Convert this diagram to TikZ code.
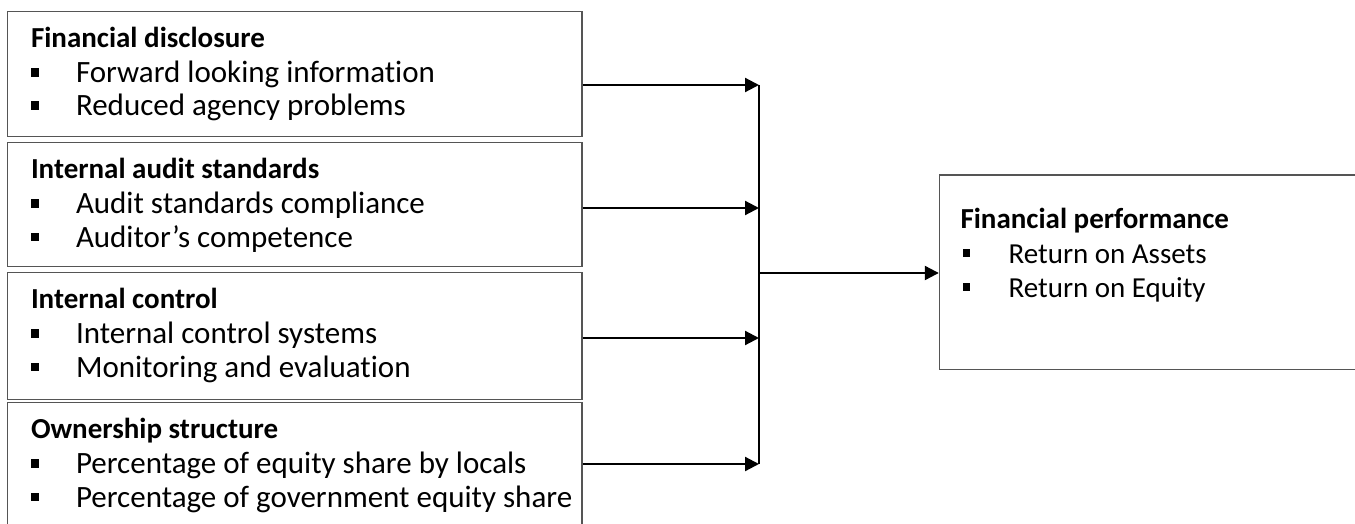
\documentclass[tikz,border=0pt]{standalone}
\usepackage{fontspec}
\setmainfont{Carlito}[Ligatures={NoCommon}]
\usetikzlibrary{arrows.meta}
\definecolor{boxgray}{HTML}{555555}
\newcommand\bl{\makebox[45pt][l]{\raisebox{6pt}{\rule{8pt}{8.5pt}}}}
\newcommand\blr{\makebox[46pt][l]{\raisebox{6pt}{\rule{7.6pt}{8pt}}}}
\begin{document}
\begin{tikzpicture}[x=1pt,y=-1pt,
  box/.style={draw=boxgray, line width=1.4pt, inner sep=0pt, rectangle},
  txt/.style={anchor=base west, inner sep=0pt, font=\fontsize{31}{34}\selectfont},
  txtr/.style={anchor=base west, inner sep=0pt, font=\fontsize{29}{34}\selectfont},
  head/.style={anchor=base west, inner sep=0pt, font=\fontsize{29}{34}\selectfont\bfseries},
  conn/.style={draw=black, line width=2.2pt},
  arr/.style={conn, -{Triangle[length=14pt,width=14pt]}}
]
\useasboundingbox (0,0) rectangle (1355,524);
\clip (0,0) rectangle (1355,524);
\fill[white] (0,0) rectangle (1355,524);

% left boxes
\node[box, minimum width=574.5pt, minimum height=125pt]   (b1) at (294.75,74.2) {};
\node[box, minimum width=574.5pt, minimum height=124pt]   (b2) at (294.75,204.7) {};
\node[box, minimum width=574.5pt, minimum height=126.6pt] (b3) at (294.75,336) {};
\node[box, minimum width=574.5pt, minimum height=137.3pt] (b4) at (294.75,471.35) {};
% right box
\node[box, minimum width=430.5pt, minimum height=194.3pt] (perf) at (1154.75,272.15) {};

% texts of box 1
\node[head] (h1)  at ([xshift=24pt,yshift=-36.6pt]b1.north west) {Financial disclosure};
\node[txt]  (t1a) at ([xshift=24pt,yshift=-71.6pt]b1.north west) {\bl Forward looking information};
\node[txt]  (t1b) at ([xshift=24pt,yshift=-105pt]b1.north west) {\bl Reduced agency problems};
% box 2
\node[head] (h2)  at ([xshift=24pt,yshift=-36.6pt]b2.north west) {Internal audit standards};
\node[txt]  (t2a) at ([xshift=24pt,yshift=-71.6pt]b2.north west) {\bl Audit standards compliance};
\node[txt]  (t2b) at ([xshift=24pt,yshift=-105pt]b2.north west) {\bl Auditor’s competence};
% box 3
\node[head] (h3)  at ([xshift=24pt,yshift=-36.6pt]b3.north west) {Internal control};
\node[txt]  (t3a) at ([xshift=24pt,yshift=-71.6pt]b3.north west) {\bl Internal control systems};
\node[txt]  (t3b) at ([xshift=24pt,yshift=-105pt]b3.north west) {\bl Monitoring and evaluation};
% box 4
\node[head] (h4)  at ([xshift=24pt,yshift=-36.6pt]b4.north west) {Ownership structure};
\node[txt]  (t4a) at ([xshift=24pt,yshift=-71.6pt]b4.north west) {\bl Percentage of equity share by locals};
\node[txt]  (t4b) at ([xshift=24pt,yshift=-105pt]b4.north west) {\bl Percentage of government equity share};
% right box
\node[head] (h5)  at ([xshift=21.5pt,yshift=-54pt]perf.north west) {Financial performance};
\node[txtr] (t5a) at ([xshift=23.5pt,yshift=-89pt]perf.north west) {\blr Return on Assets};
\node[txtr] (t5b) at ([xshift=23.5pt,yshift=-123pt]perf.north west) {\blr Return on Equity};

% connectors
\coordinate (j1) at (759,85);
\coordinate (j2) at (759,208);
\coordinate (j3) at (759,338);
\coordinate (j4) at (759,464);
\coordinate (jc) at (759,273);
\draw[arr] (b1.east |- j1) -- (j1);
\draw[arr] (b2.east |- j2) -- (j2);
\draw[arr] (b3.east |- j3) -- (j3);
\draw[arr] (b4.east |- j4) -- (j4);
\draw[conn] (j1) -- (j4);
\draw[arr] (jc) -- (jc -| perf.west);
\end{tikzpicture}
\end{document}
